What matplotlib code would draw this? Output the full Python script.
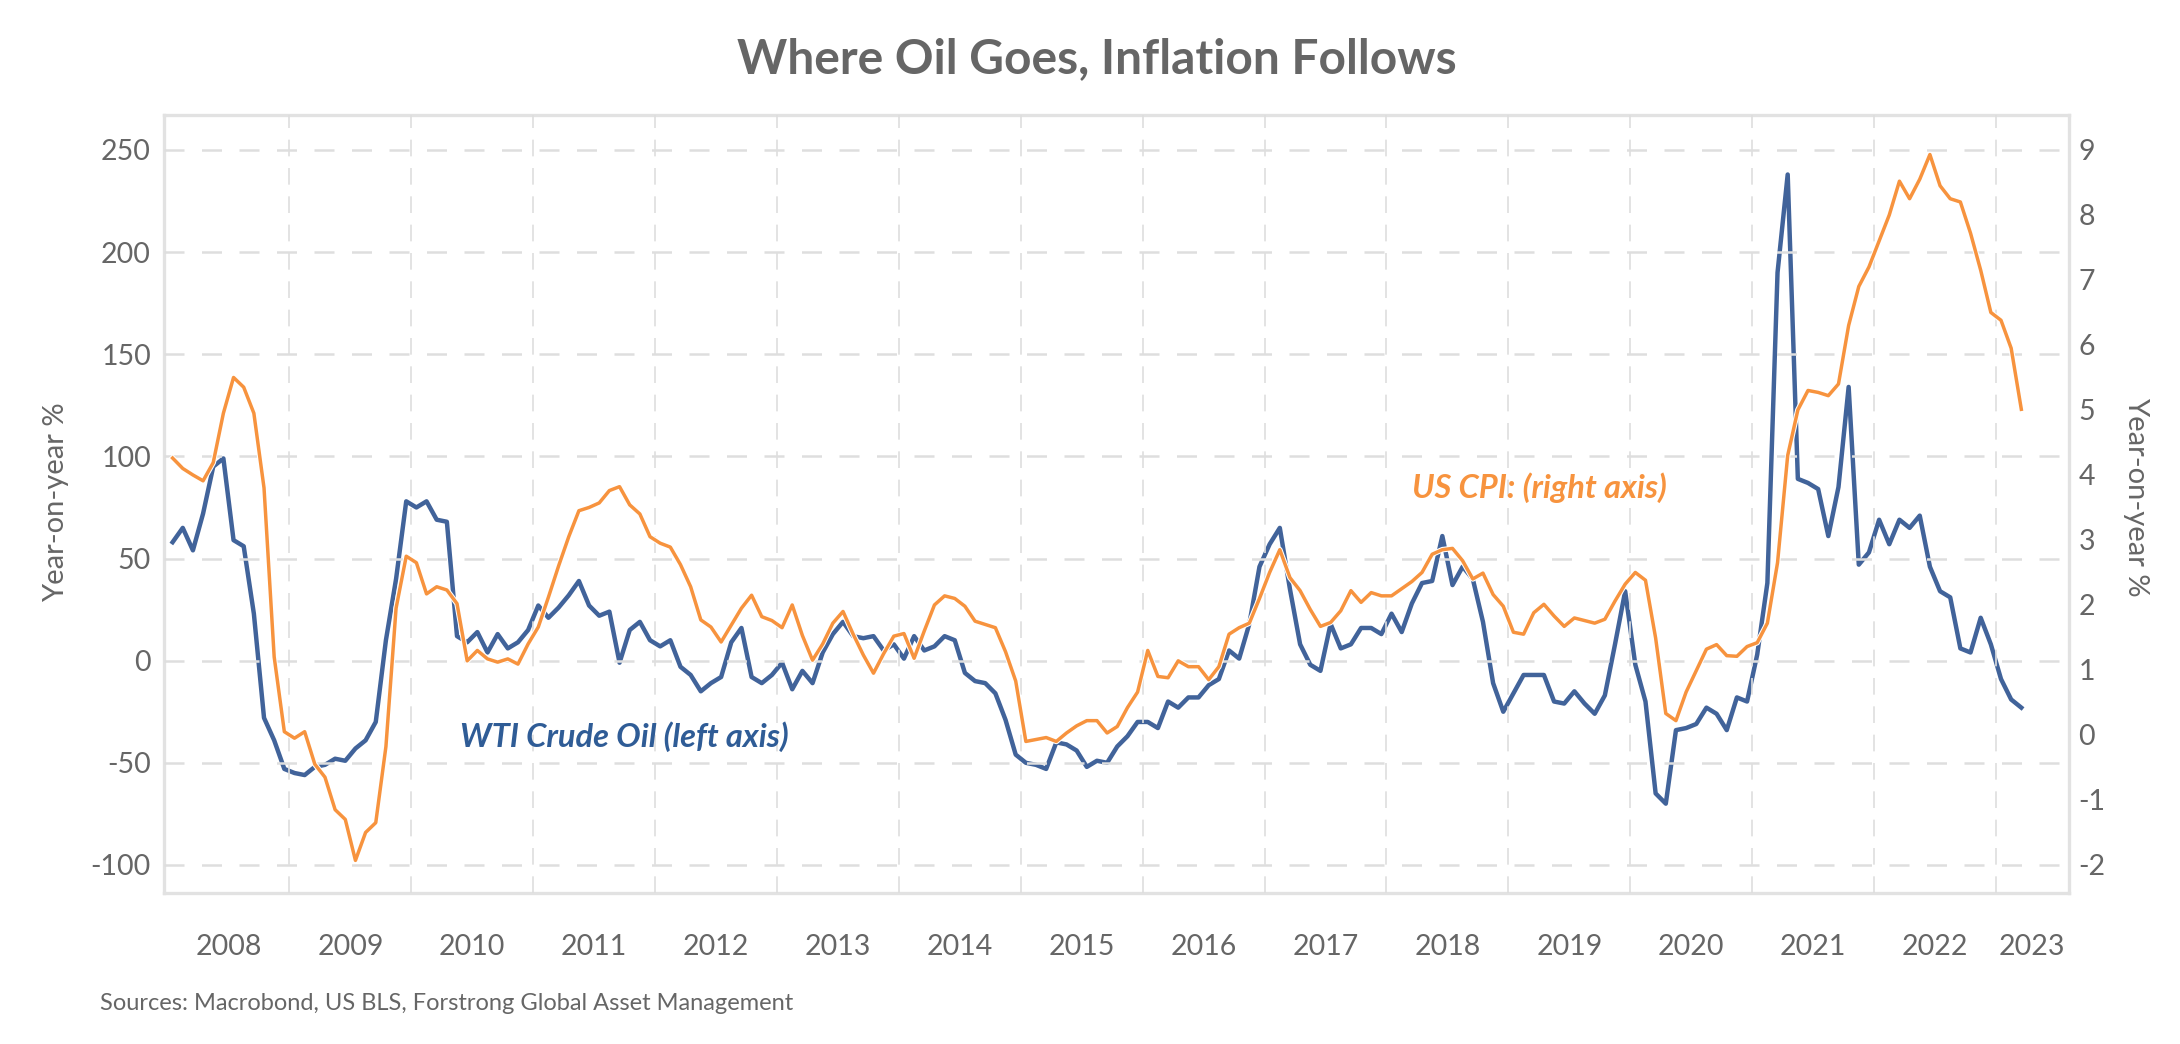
import numpy as np
import matplotlib
matplotlib.use("Agg")
import matplotlib.pyplot as plt
import matplotlib.patheffects as pe

plt.rcParams['font.family'] = ['Lato', 'DejaVu Sans']
plt.rcParams['axes.unicode_minus'] = False

# monthly data, Jan 2008 .. Mar 2023
start_year = 2008
wti_yoy = [
    58, 65, 54, 72, 95, 99, 59, 56, 23, -28, -39, -53,          # 2008
    -55, -56, -52, -51, -48, -49, -43, -39, -30, 10, 40, 78,    # 2009
    75, 78, 69, 68, 12, 9, 14, 4, 13, 6, 9, 15,                 # 2010
    27, 21, 26, 32, 39, 27, 22, 24, -1, 15, 19, 10,             # 2011
    7, 10, -3, -7, -15, -11, -8, 9, 16, -8, -11, -7,            # 2012
    -1, -14, -5, -11, 4, 13, 19, 12, 11, 12, 5, 8,              # 2013
    1, 12, 5, 7, 12, 10, -6, -10, -11, -16, -29, -46,           # 2014
    -50, -51, -53, -40, -41, -44, -52, -49, -50, -42, -37, -30, # 2015
    -30, -33, -20, -23, -18, -18, -12, -9, 5, 1, 18, 46,        # 2016
    57, 65, 35, 8, -2, -5, 18, 6, 8, 16, 16, 13,                # 2017
    23, 14, 28, 38, 39, 61, 37, 46, 40, 19, -11, -25,           # 2018
    -16, -7, -7, -7, -20, -21, -15, -21, -26, -17, 8, 34,       # 2019
    -2, -20, -65, -70, -34, -33, -31, -23, -26, -34, -18, -20,  # 2020
    3, 38, 190, 238, 89, 87, 84, 61, 85, 134, 47, 53,           # 2021
    69, 57, 69, 65, 71, 46, 34, 31, 6, 4, 21, 8,                # 2022
    -9, -19, -23,                                               # 2023
]
cpi_yoy = [
    4.26, 4.10, 4.00, 3.91, 4.19, 4.95, 5.50, 5.35, 4.95, 3.80, 1.20, 0.05,
    -0.05, 0.05, -0.45, -0.65, -1.15, -1.30, -1.93, -1.50, -1.35, -0.18, 1.95, 2.75,
    2.65, 2.17, 2.28, 2.23, 2.02, 1.14, 1.30, 1.17, 1.12, 1.17, 1.09, 1.40,
    1.66, 2.12, 2.60, 3.05, 3.45, 3.50, 3.57, 3.76, 3.82, 3.54, 3.40, 3.05,
    2.95, 2.89, 2.62, 2.28, 1.77, 1.66, 1.43, 1.69, 1.95, 2.15, 1.82, 1.76,
    1.65, 2.00, 1.53, 1.15, 1.40, 1.72, 1.90, 1.55, 1.23, 0.95, 1.25, 1.52,
    1.56, 1.18, 1.60, 2.00, 2.14, 2.10, 1.98, 1.75, 1.70, 1.65, 1.28, 0.83,
    -0.10, -0.07, -0.04, -0.10, 0.03, 0.14, 0.22, 0.22, 0.03, 0.13, 0.42, 0.66,
    1.30, 0.90, 0.88, 1.14, 1.05, 1.05, 0.85, 1.05, 1.55, 1.65, 1.72, 2.10,
    2.50, 2.85, 2.42, 2.22, 1.93, 1.67, 1.73, 1.91, 2.22, 2.04, 2.19, 2.14,
    2.14, 2.25, 2.36, 2.50, 2.78, 2.85, 2.87, 2.68, 2.40, 2.49, 2.16, 1.98,
    1.58, 1.55, 1.88, 2.01, 1.83, 1.67, 1.80, 1.76, 1.72, 1.78, 2.06, 2.32,
    2.50, 2.38, 1.49, 0.33, 0.22, 0.66, 0.99, 1.32, 1.39, 1.22, 1.21, 1.36,
    1.42, 1.72, 2.65, 4.30, 5.00, 5.30, 5.27, 5.22, 5.40, 6.30, 6.90, 7.20,
    7.60, 8.00, 8.52, 8.25, 8.55, 8.93, 8.45, 8.25, 8.20, 7.72, 7.15, 6.50,
    6.38, 5.95, 5.01,
]
years = list(range(2008, 2024))
left_ticks = [-100, -50, 0, 50, 100, 150, 200, 250]
right_ticks = list(range(-2, 10))

# mid-month positions in fractional years
x = start_year + (np.arange(len(wti_yoy)) + 0.5) / 12

blue = '#41639a'
orange = '#f7933e'
grey_txt = '#666666'
grid_c = '#dedede'

fig = plt.figure(figsize=(21.8, 10.44), dpi=100)
ax = fig.add_axes([0.075, 0.1451, 0.874, 0.7447])
ax2 = ax.twinx()

# left axis: oil
ax.plot(x, wti_yoy, color=blue, linewidth=3.2, solid_joinstyle='round')
ylo, yhi = -113.5, 267.1
ax.set_ylim(ylo, yhi)
ax.set_yticks(left_ticks)
ax.set_xlim(2007.967, 2023.598)

# right axis: CPI, aligned so 250 <-> 9 and -100 <-> -2
def to_right(v):
    return -2 + (v + 100) * 11 / 350
ax2.set_ylim(to_right(ylo), to_right(yhi))
ax2.set_yticks(right_ticks)
ax2.plot(x, cpi_yoy, color=orange, linewidth=2.5, solid_joinstyle='round',
         path_effects=[pe.Stroke(linewidth=4.0, foreground='white'), pe.Normal()])

# gridlines
ax.set_axisbelow(False)
ax.set_xticks(years[1:])
ax.set_xticklabels([])
ax.grid(axis='y', color=grid_c, linewidth=1.8, linestyle=(0, (8, 7)))
ax.grid(axis='x', color=grid_c, linewidth=1.2, linestyle=(0, (10, 7)))

# year labels centred in each year
label_pos = [y + 0.5 for y in years[:-1]] + [(2023 + 2023.598) / 2]
ax.set_xticks(label_pos, minor=True)
ax.set_xticklabels([str(y) for y in years], minor=True)
ax.tick_params(axis='x', which='both', length=0)
ax.tick_params(axis='x', which='minor', pad=30, labelsize=20.5, labelcolor=grey_txt)
ax.tick_params(axis='y', length=0, pad=9, labelsize=20.5, labelcolor=grey_txt)
ax2.tick_params(axis='y', length=0, pad=7, labelsize=20.5, labelcolor=grey_txt)

for s in ax.spines.values():
    s.set_color('#e2e2e2')
    s.set_linewidth(2.4)
for s in ax2.spines.values():
    s.set_visible(False)

# annotations
ax.text(2010.40, -37.3, 'WTI Crude Oil (left axis)', color='#2f5c96', fontsize=23.5,
        fontweight='bold', fontstyle='italic', ha='left', va='center')
ax.text(2018.21, 84.5, 'US CPI: (right axis)', color=orange, fontsize=23.5,
        fontweight='bold', fontstyle='italic', ha='left', va='center')

fig.text(0.503, 0.930, 'Where Oil Goes, Inflation Follows', ha='center', va='baseline',
         fontsize=34.5, fontweight='bold', color=grey_txt)
fig.text(56 / 2180, 1 - 502 / 1044, 'Year-on-year %', rotation=90, ha='center', va='center',
         fontsize=21, color=grey_txt)
fig.text(2136 / 2180, 1 - 497 / 1044, 'Year-on-year %', rotation=270, ha='center', va='center',
         fontsize=21, color=grey_txt)
fig.text(100 / 2180, 1 - 1003 / 1044, 'Sources: Macrobond, US BLS, Forstrong Global Asset Management',
         ha='left', va='center', fontsize=17, color=grey_txt)

fig.savefig('out.png', dpi=100, facecolor='white')
